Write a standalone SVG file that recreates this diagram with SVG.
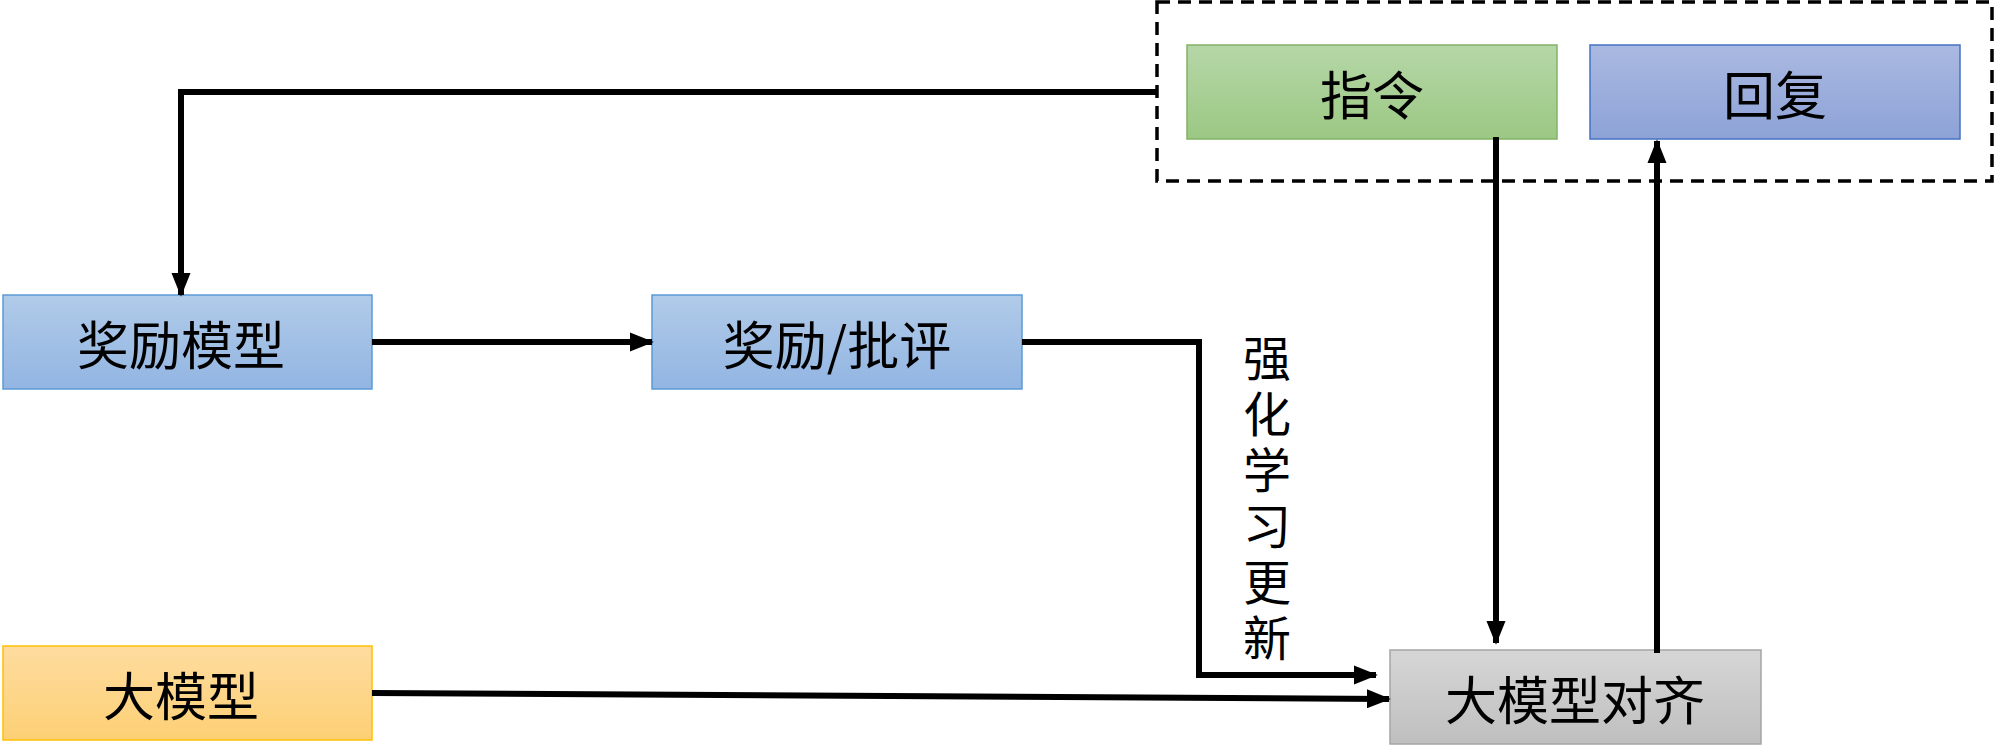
<svg xmlns="http://www.w3.org/2000/svg" width="2000" height="751" viewBox="0 0 2000 751">
<defs>
<linearGradient id="gBlue" x1="0" y1="0" x2="0" y2="1"><stop offset="0" stop-color="#b1cbe9"/><stop offset="1" stop-color="#92b5e2"/></linearGradient>
<linearGradient id="gGreen" x1="0" y1="0" x2="0" y2="1"><stop offset="0" stop-color="#b6d7a8"/><stop offset="1" stop-color="#9bc883"/></linearGradient>
<linearGradient id="gPurple" x1="0" y1="0" x2="0" y2="1"><stop offset="0" stop-color="#aab9e1"/><stop offset="1" stop-color="#8da2d7"/></linearGradient>
<linearGradient id="gOrange" x1="0" y1="0" x2="0" y2="1"><stop offset="0" stop-color="#fedc9f"/><stop offset="1" stop-color="#fdd075"/></linearGradient>
<linearGradient id="gGray" x1="0" y1="0" x2="0" y2="1"><stop offset="0" stop-color="#d6d6d6"/><stop offset="1" stop-color="#bfbfbf"/></linearGradient>
<marker id="arr" markerWidth="4" markerHeight="3.2" refX="3.7" refY="1.6" orient="auto" markerUnits="strokeWidth"><path d="M0,0 L4,1.6 L0,3.2 z" fill="#000"/></marker>
</defs>
<style>
.lbl{font-family:"Noto Sans CJK SC","Liberation Serif",sans-serif;font-size:52px;fill:#000;text-anchor:middle;dominant-baseline:central}
.conn{fill:none;stroke:#000;stroke-width:6}
</style>
<g id="group-box">
<rect x="1157" y="2" width="835" height="179" fill="none" stroke="#000" stroke-width="3.5" stroke-dasharray="13,8"/>
</g>
<g id="node-instruction">
<rect x="1187" y="45" width="370" height="94" fill="url(#gGreen)" stroke="#82b366" stroke-width="1.5"/>
<text class="lbl" x="1372" y="92">指令</text>
</g>
<g id="node-reply">
<rect x="1590" y="45" width="370" height="94" fill="url(#gPurple)" stroke="#4472c4" stroke-width="1.5"/>
<text class="lbl" x="1775" y="92">回复</text>
</g>
<g id="node-reward-model">
<rect x="3" y="295" width="369" height="94" fill="url(#gBlue)" stroke="#5b9bd5" stroke-width="1.5"/>
<text class="lbl" x="181" y="342">奖励模型</text>
</g>
<g id="node-reward-critique">
<rect x="652" y="295" width="370" height="94" fill="url(#gBlue)" stroke="#5b9bd5" stroke-width="1.5"/>
<text class="lbl" x="837" y="342">奖励/批评</text>
</g>
<g id="node-llm">
<rect x="3" y="646" width="369" height="94" fill="url(#gOrange)" stroke="#ffc000" stroke-width="1.5"/>
<text class="lbl" x="181" y="693">大模型</text>
</g>
<g id="node-alignment">
<rect x="1390" y="650" width="371" height="94" fill="url(#gGray)" stroke="#a5a5a5" stroke-width="1.5"/>
<text class="lbl" x="1575" y="697">大模型对齐</text>
</g>
<g id="connectors">
<polyline class="conn" points="1157,92 181,92 181,295" marker-end="url(#arr)"/>
<line class="conn" x1="372" y1="342" x2="652" y2="342" marker-end="url(#arr)"/>
<polyline class="conn" points="1022,342 1199,342 1199,675 1376,675" marker-end="url(#arr)"/>
<line class="conn" x1="372" y1="693" x2="1389" y2="699" marker-end="url(#arr)"/>
<line class="conn" x1="1496" y1="137" x2="1496" y2="643" marker-end="url(#arr)"/>
<line class="conn" x1="1657" y1="653" x2="1657" y2="141" marker-end="url(#arr)"/>
</g>
<g id="edge-label">
<text x="1267" y="334" writing-mode="tb" style="font-family:'Noto Sans CJK SC','Liberation Serif',sans-serif;font-size:48px;letter-spacing:8px;fill:#000">强化学习更新</text>
</g>
</svg>
